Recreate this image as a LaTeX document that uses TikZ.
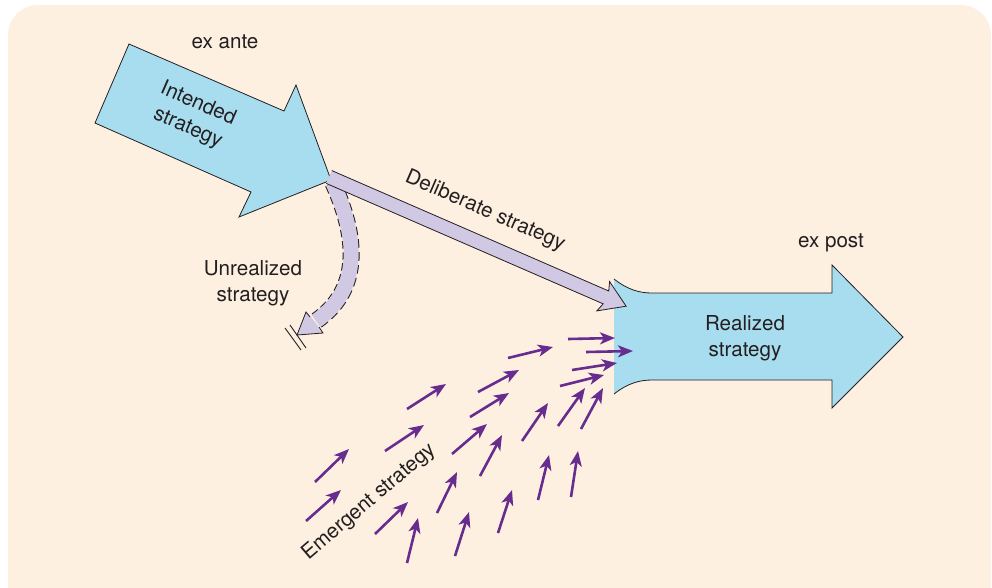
\documentclass[tikz,border=0pt]{standalone}
\usepackage{fontspec}
\setmainfont{TeX Gyre Heros}
\usetikzlibrary{arrows.meta}
\definecolor{bg}{HTML}{FDF0E1}
\definecolor{sky}{HTML}{A8DDEF}
\definecolor{lav}{HTML}{D1C8E3}
\definecolor{pur}{HTML}{662D8E}
\definecolor{ink}{HTML}{231F20}
\begin{document}
\begin{tikzpicture}[x=1pt,y=-1pt,
  lbl/.style={font=\fontsize{20.6}{26}\selectfont, text=ink, align=center, inner sep=0pt},
  skyfill/.style={fill=sky},
  outline/.style={draw=ink, line width=0.8pt, line join=miter},
  lavfill/.style={fill=lav},
  emarrow/.style={draw=pur, line width=2.6pt, -{Stealth[length=15pt,width=12pt,inset=4pt]}}
]
\useasboundingbox (0,0) rectangle (992,587);
% background panel
\fill[bg, rounded corners=30pt] (8,5) rectangle (991,640);

% Intended strategy block arrow
\fill[skyfill] (129,44) -- (284,111) -- (296,85) -- (331,180) -- (239,217) -- (251,192) -- (95,123) -- cycle;
\draw[outline] (129,44) -- (284,111) -- (296,85) -- (331,180) -- (239,217) -- (251,192) -- (95,123) -- cycle;

% Realized strategy block arrow
\fill[skyfill] (614,279) .. controls (628,290) and (640,293) .. (652,293) -- (832,293) -- (832,265) -- (903,337) -- (832,408) -- (832,380) -- (652,380) .. controls (640,380) and (628,383) .. (614,394) -- cycle;
\draw[outline] (614,279) .. controls (628,290) and (640,293) .. (652,293) -- (832,293) -- (832,265) -- (903,337) -- (832,408) -- (832,380) -- (652,380) .. controls (640,380) and (628,383) .. (614,394);

% Unrealized strategy curved band
\draw[ink, line width=17pt, dash pattern=on 8pt off 4pt] (333,183) .. controls (352,225) and (368,285) .. (316,321);
\draw[lav, line width=15pt] (333,183) .. controls (352,225) and (368,285) .. (316,321);
\fill[lavfill] (306,312) -- (297,335) -- (323,333) -- (318,326) -- (311,317) -- cycle;
\draw[outline] (310,317) -- (306,312) -- (297,335) -- (323,333) -- (319,327);
% blocking marks
\draw[ink, line width=0.9pt] (285,328) -- (301,350);
\draw[ink, line width=0.9pt] (290,325) -- (306,348);

% Deliberate strategy straight arrow
\begin{scope}[shift={(329,177)}, rotate=-23.5]
\fill[lavfill] (0,-7) -- (302,-7) -- (299,-16) -- (324,0) -- (299,16) -- (302,7) -- (0,7) -- cycle;
\draw[outline] (0,-7) -- (302,-7) -- (299,-16) -- (324,0) -- (299,16) -- (302,7) -- (0,7);
\end{scope}

% Emergent strategy arrows
\foreach \ax/\ay/\bx/\by in {
  315/482/349/449, 306/521/341/490, 407/409/446/384, 385/451/424/425,
  375/534/408/502, 407/563/418/518, 455/556/469/512, 437/513/457/472,
  452/454/487/424, 470/417/509/393, 478/392/519/370, 508/358/553/347,
  480/476/502/435, 498/533/512/490, 522/441/548/403, 538/500/549/455,
  571/497/578/451, 558/426/585/388, 581/429/603/388, 560/386/604/375,
  572/370/617/363, 586/352/633/351, 568/339/615/338}
  \draw[emarrow] (\ax,\ay) -- (\bx,\by);

% Labels
\node[lbl] (exante) at (225,42) {ex ante};
\node[lbl] (expost) at (831,243) {ex post};
\node[lbl, rotate=-23.5] (intended) at (193,116) {Intended\\strategy};
\node[lbl, rotate=-23.5] (deliberate) at (485,211) {Deliberate strategy};
\node[lbl] (unrealized) at (253,283) {Unrealized\\strategy};
\node[lbl] (realized) at (745,338) {Realized\\strategy};
\node[lbl, rotate=40.5] (emergent) at (369,502) {Emergent strategy};
\end{tikzpicture}
\end{document}
